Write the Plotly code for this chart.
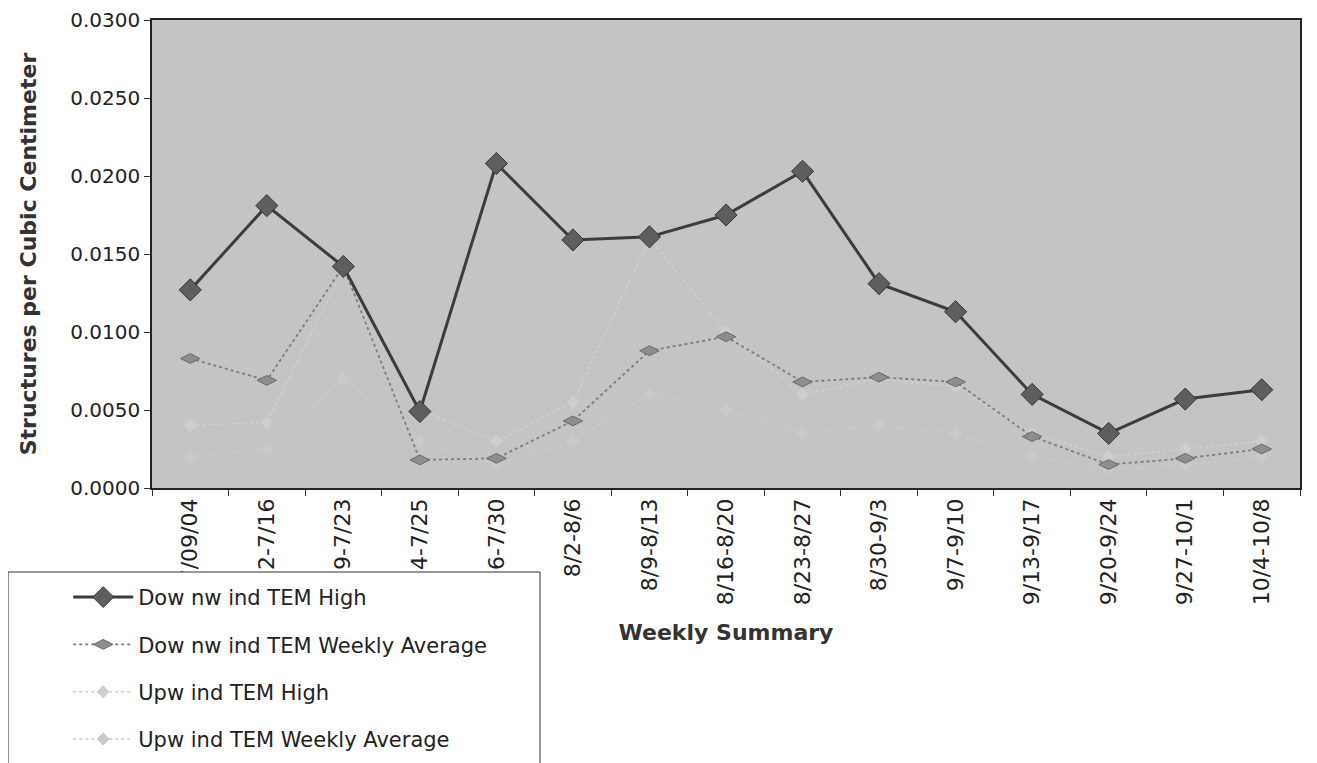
import plotly.graph_objects as go

weeks = ["7/09/04", "7/12-7/16", "7/19-7/23", "7/24-7/25", "7/26-7/30", "8/2-8/6",
         "8/9-8/13", "8/16-8/20", "8/23-8/27", "8/30-9/3", "9/7-9/10", "9/13-9/17",
         "9/20-9/24", "9/27-10/1", "10/4-10/8"]

downwind_high = [0.0127, 0.0181, 0.0142, 0.0049, 0.0208, 0.0159, 0.0161, 0.0175,
                 0.0203, 0.0131, 0.0113, 0.0060, 0.0035, 0.0057, 0.0063]
downwind_avg = [0.0083, 0.0069, 0.0142, 0.0018, 0.0019, 0.0043, 0.0088, 0.0097,
                0.0068, 0.0071, 0.0068, 0.0033, 0.0015, 0.0019, 0.0025]
upwind_high = [0.0040, 0.0042, 0.0140, 0.0050, 0.0030, 0.0055, 0.0160, 0.0100,
               0.0060, 0.0070, 0.0065, 0.0035, 0.0020, 0.0025, 0.0030]
upwind_avg = [0.0020, 0.0025, 0.0070, 0.0030, 0.0015, 0.0030, 0.0060, 0.0050,
              0.0035, 0.0040, 0.0035, 0.0020, 0.0012, 0.0015, 0.0020]

series_names = ["Dow nw ind TEM High", "Dow nw ind TEM Weekly Average",
                "Upw ind TEM High", "Upw ind TEM Weekly Average"]

FONT = "DejaVu Sans, Liberation Sans, Arial, sans-serif"
BG = "#c4c4c4"

fig = go.Figure()

fig.add_trace(go.Scatter(
    x=weeks, y=upwind_high, name=series_names[2], mode="lines+markers",
    legendgroup="g3", legendrank=3,
    line=dict(color="#d0d0d0", width=1.5, dash="dot"),
    marker=dict(symbol="diamond", size=10, color="#cecece")))
fig.add_trace(go.Scatter(
    x=weeks, y=upwind_avg, name=series_names[3], mode="lines+markers",
    legendgroup="g4", legendrank=4,
    line=dict(color="#cccccc", width=1.5, dash="dot"),
    marker=dict(symbol="diamond", size=10, color="#cacaca")))
fig.add_trace(go.Scatter(
    x=weeks, y=downwind_avg, name=series_names[1], mode="lines+markers",
    legendgroup="g2", legendrank=2,
    line=dict(color="#7c7c7c", width=1.8, dash="dot"),
    marker=dict(symbol="diamond-wide", size=14, color="#8e8e8e",
                line=dict(color="#6a6a6a", width=1))))
fig.add_trace(go.Scatter(
    x=weeks, y=downwind_high, name=series_names[0], mode="lines+markers",
    legendgroup="g1", legendrank=1,
    line=dict(color="#3c3c3c", width=3),
    marker=dict(symbol="diamond", size=17, color="#5e5e5e",
                line=dict(color="#333333", width=1))))

fig.update_layout(
    width=1317, height=763,
    margin=dict(l=144, r=25, t=12, b=283, autoexpand=False),
    paper_bgcolor="white",
    plot_bgcolor=BG,
    font=dict(family=FONT, size=19, color="#222"),
    showlegend=True,
    legend=dict(
        x=-0.073, y=-0.19, xanchor="left", yanchor="top",
        bgcolor="rgba(0,0,0,0)", borderwidth=0,
        font=dict(family=FONT, size=21, color="#222"),
        tracegroupgap=17, itemwidth=60,
        traceorder="grouped",
    ),
    shapes=[dict(type="rect", xref="paper", yref="paper",
                 x0=-0.1254, x1=0.338, y0=-0.1795, y1=-0.62,
                 fillcolor="white", line=dict(color="#333", width=1),
                 layer="above")],
)

fig.update_xaxes(
    type="category", tickangle=-90, tickson="boundaries",
    ticks="outside", ticklen=6, tickcolor="#333",
    showline=True, linecolor="#222", linewidth=1.5, mirror=True,
    showgrid=False, tickfont=dict(family=FONT, size=22, color="#222"),
    title=dict(text="<b>Weekly Summary</b>", font=dict(family=FONT, size=22, color="#333"),
               standoff=20),
    range=[-0.5, 14.5],
)
fig.update_yaxes(
    range=[0, 0.03], dtick=0.005, tickformat=".4f",
    ticks="outside", ticklen=6, tickcolor="#333",
    showline=True, linecolor="#222", linewidth=1.5, mirror=True,
    showgrid=False, zeroline=False,
    tickfont=dict(family=FONT, size=20, color="#222"),
    title=dict(text="<b>Structures per Cubic Centimeter</b>",
               font=dict(family=FONT, size=22, color="#333"), standoff=28),
)

fig.write_html("out.html")
